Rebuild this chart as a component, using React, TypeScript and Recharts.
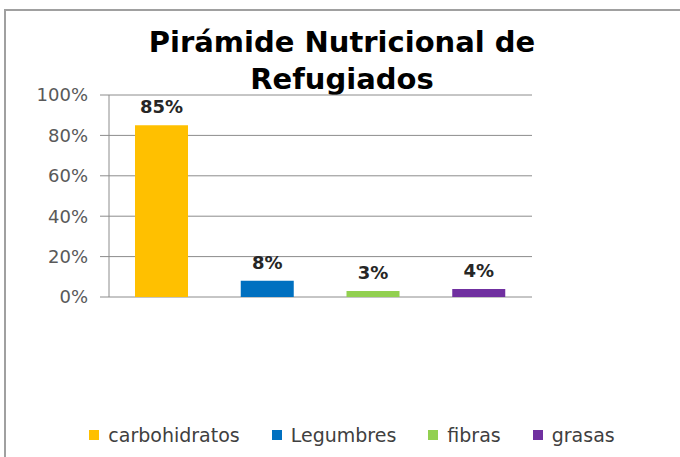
import React from "react";
import { BarChart, Bar, XAxis, YAxis, CartesianGrid, Cell, LabelList, Legend } from "recharts";

// chart data
const categories = ["carbohidratos", "Legumbres", "fibras", "grasas"];
const shares = [0.85, 0.08, 0.03, 0.04];
const barColors = ["#FFC000", "#0070C0", "#92D050", "#7030A0"];
const yTicks = [0, 0.2, 0.4, 0.6, 0.8, 1];

const titleLines = ["Pirámide Nutricional de", "Refugiados"];

const FONT = "'DejaVu Sans', 'Open Sans', sans-serif";

const data = categories.map((name, i) => ({ name, value: shares[i] }));

const pct = (v: number) => `${Math.round(v * 100)}%`;

function LegendRow() {
  return (
    <div
      style={{
        display: "flex",
        justifyContent: "center",
        gap: 32,
        paddingLeft: 24,
        fontFamily: FONT,
        fontSize: 19,
        lineHeight: "22px",
        color: "#404040",
      }}
    >
      {categories.map((c, i) => (
        <div key={c} style={{ display: "flex", alignItems: "center", gap: 9 }}>
          <span style={{ display: "inline-block", width: 10, height: 10, background: barColors[i] }} />
          <span>{c}</span>
        </div>
      ))}
    </div>
  );
}

export default function App() {
  return (
    <div style={{ position: "absolute", left: 0, top: 0, width: 680, height: 457, background: "#fff", overflow: "hidden" }}>
      {/* outer frame, only left & top edges fall inside the picture */}
      <div style={{ position: "absolute", left: 4, top: 9, width: 720, height: 500, border: "2px solid #a0a0a0" }} />
      <div
        style={{
          position: "absolute",
          left: 0,
          top: 24,
          width: 684,
          textAlign: "center",
          fontFamily: FONT,
          fontWeight: 700,
          fontSize: 29,
          lineHeight: "37px",
          color: "#000",
        }}
      >
        {titleLines.map((t) => (
          <div key={t}>{t}</div>
        ))}
      </div>
      <div style={{ position: "absolute", left: 0, top: 0 }}>
        <BarChart
          width={680}
          height={457}
          data={data}
          margin={{ top: 95, right: 148, left: 49, bottom: 138 }}
          barSize={53}
        >
          <CartesianGrid vertical={false} stroke="#8c8c8c" strokeWidth={1} />
          <XAxis dataKey="name" hide height={0} />
          <YAxis
            width={60}
            domain={[0, 1]}
            ticks={yTicks}
            tickFormatter={pct}
            interval={0}
            tickSize={9}
            tickMargin={12}
            axisLine={{ stroke: "#8c8c8c" }}
            tickLine={{ stroke: "#8c8c8c" }}
            tick={{ fontFamily: FONT, fontSize: 18, fill: "#595959" }}
          />
          <Legend
            verticalAlign="bottom"
            wrapperStyle={{ position: "absolute", left: 0, top: 424, width: 680 }}
            content={() => <LegendRow />}
          />
          <Bar dataKey="value" isAnimationActive={false}>
            {data.map((d, i) => (
              <Cell key={d.name} fill={barColors[i]} />
            ))}
            <LabelList
              dataKey="value"
              position="top"
              offset={12}
              formatter={(v: any) => pct(Number(v))}
              style={{ fontFamily: FONT, fontSize: 18, fontWeight: 700, fill: "#262626" }}
            />
          </Bar>
        </BarChart>
      </div>
    </div>
  );
}
